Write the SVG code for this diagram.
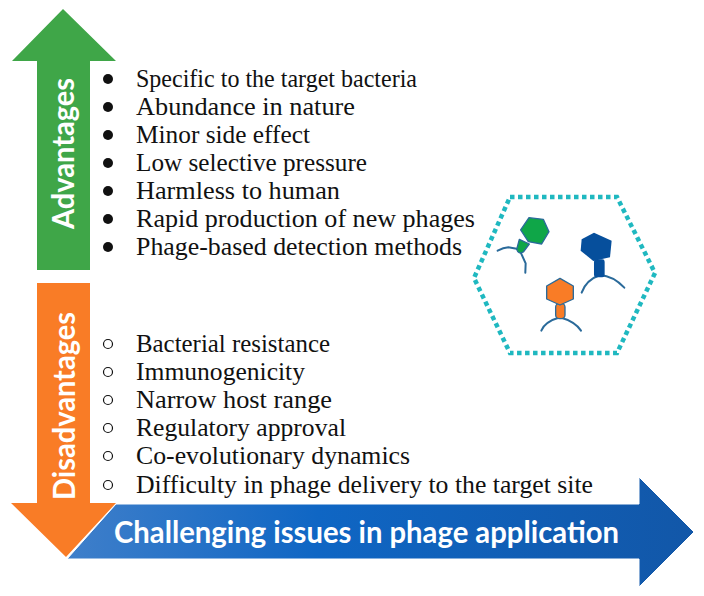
<svg xmlns="http://www.w3.org/2000/svg" width="704" height="596" viewBox="0 0 704 596">
<style>
.t{font-family:"Liberation Serif","DejaVu Serif",serif;font-size:24.5px;fill:#111}
.l{font-family:Lato,"Open Sans",sans-serif;font-weight:700;font-size:30px;fill:#fff}
.o{fill:none;stroke:#111;stroke-width:1.2}
.leg{fill:none;stroke:#2a6a9a;stroke-width:6;stroke-linecap:round;stroke-linejoin:round}
.e{stroke:#2a6a9a;stroke-width:4;stroke-linejoin:round}
</style>
<defs>
<linearGradient id="b" x1="67" y1="0" x2="694" y2="0" gradientUnits="userSpaceOnUse">
<stop offset="0" stop-color="#3f7fca"/><stop offset=".4" stop-color="#0f66c4"/><stop offset="1" stop-color="#1257a8"/>
</linearGradient>
</defs>
<rect width="704" height="596" fill="#fff"/>
<g id="advantages">
<polygon points="63,9 116,61 90,61 90,270 37,270 37,61 12,61" fill="#3fa648"/>
<text class="l" transform="translate(74,229) rotate(-90)" textLength="151" lengthAdjust="spacingAndGlyphs">Advantages</text>
<g fill="#111"><circle cx="108" cy="79" r="5"/><circle cx="108" cy="107" r="5"/><circle cx="108" cy="135" r="5"/><circle cx="108" cy="163" r="5"/><circle cx="108" cy="191" r="5"/><circle cx="108" cy="219" r="5"/><circle cx="108" cy="247" r="5"/></g>
<text class="t" x="136" y="87" textLength="281" lengthAdjust="spacingAndGlyphs">Specific to the target bacteria</text>
<text class="t" x="136" y="115" textLength="219" lengthAdjust="spacingAndGlyphs">Abundance in nature</text>
<text class="t" x="136" y="143" textLength="174" lengthAdjust="spacingAndGlyphs">Minor side effect</text>
<text class="t" x="136" y="171" textLength="231" lengthAdjust="spacingAndGlyphs">Low selective pressure</text>
<text class="t" x="136" y="199" textLength="204" lengthAdjust="spacingAndGlyphs">Harmless to human</text>
<text class="t" x="136" y="227" textLength="339" lengthAdjust="spacingAndGlyphs">Rapid production of new phages</text>
<text class="t" x="136" y="255" textLength="326" lengthAdjust="spacingAndGlyphs">Phage-based detection methods</text>
</g>
<g id="disadvantages">
<polygon points="37,283 90,283 90,503 116,503 66,557 11,503 37,503" fill="#f97c26"/>
<text class="l" transform="translate(75,500) rotate(-90)" textLength="188" lengthAdjust="spacingAndGlyphs">Disadvantages</text>
<circle class="o" cx="108" cy="344" r="4.5"/><circle class="o" cx="108" cy="372" r="4.5"/><circle class="o" cx="108" cy="400" r="4.5"/><circle class="o" cx="108" cy="428" r="4.5"/><circle class="o" cx="108" cy="456" r="4.5"/><circle class="o" cx="108" cy="485" r="4.5"/>
<text class="t" x="136" y="352" textLength="194" lengthAdjust="spacingAndGlyphs">Bacterial resistance</text>
<text class="t" x="136" y="380" textLength="169" lengthAdjust="spacingAndGlyphs">Immunogenicity</text>
<text class="t" x="136" y="408" textLength="196" lengthAdjust="spacingAndGlyphs">Narrow host range</text>
<text class="t" x="136" y="436" textLength="210" lengthAdjust="spacingAndGlyphs">Regulatory approval</text>
<text class="t" x="136" y="464" textLength="274" lengthAdjust="spacingAndGlyphs">Co-evolutionary dynamics</text>
<text class="t" x="136" y="493" textLength="457" lengthAdjust="spacingAndGlyphs">Difficulty in phage delivery to the target site</text>
</g>
<g id="challenges">
<polygon points="67,559 116,504 639,504 639,477 694,532 639,587 639,559" fill="url(#b)" stroke="#fff" stroke-width="1"/>
<text class="l" x="114" y="543" textLength="505" lengthAdjust="spacingAndGlyphs" style="font-size:31px">Challenging issues in phage application</text>
</g>
<g id="phages">
<polygon points="510,197 617,197 655,273 617,353 510,353 474,278" fill="none" stroke="#1fb8c0" stroke-width="4.5" stroke-dasharray="4.5 3.5"/>
<g transform="translate(460,180) scale(.3333)">
<g id="phage-green">
<path class="leg" d="M113,212 Q130,203 145,202 L178,208 Q190,235 197,250 L196,278"/>
<path d="M178,178 L208,192 L190,216 Q175,224 170,208 Z" fill="#0fa648" class="e"/>
<polygon points="207,113 250,118 267,155 245,192 205,185 182,150" fill="#0fa648" class="e"/>
</g>
<g id="phage-blue">
<path class="leg" d="M365,338 Q378,300 420,285 Q460,288 493,323"/>
<rect x="402" y="238" width="32" height="54" rx="7" fill="#064f9c"/>
<polygon points="402,158 455,182 450,232 400,243 362,212 365,178" fill="#064f9c"/>
</g>
<g id="phage-orange">
<path class="leg" d="M244,452 Q255,425 300,412 Q345,425 363,452"/>
<rect x="287" y="370" width="28" height="46" rx="11" fill="#f97c26" class="e"/>
<polygon points="300,295 340,318 340,357 300,375 260,357 260,318" fill="#f97c26" class="e"/>
</g>
</g>
</g>
</svg>
